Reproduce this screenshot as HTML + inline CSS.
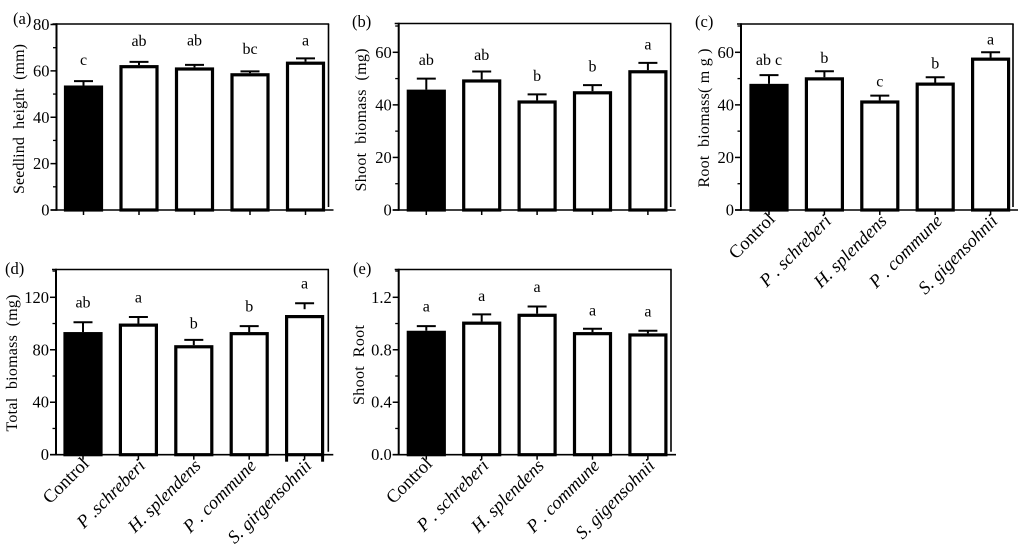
<!DOCTYPE html>
<html lang="en">
<head>
<meta charset="utf-8">
<title>Biomass bar charts</title>
<style>
html,body{margin:0;padding:0;background:#fff;}
svg{display:block;width:1024px;height:555px;}
text{font-family:"Liberation Serif",serif;fill:#000;white-space:pre;}
</style>
</head>
<body>
<svg id="chart" xmlns="http://www.w3.org/2000/svg" width="1024" height="555" viewBox="0 0 1024 555"></svg>
<script>
// ---- Data ----
const aValues = [53.7, 62.5, 61.5, 59, 64];
const aErrors = [1.9, 1.4, 1.1, 0.8, 1.4];
const aLetters = ['c', 'ab', 'ab', 'bc', 'a'];
const aLetterHeights = [62.5, 70.7, 71, 67.2, 71];
const aTicks = [0, 20, 40, 60, 80];
const aMinorTicks = [10, 30, 50, 70];

const bValues = [45.8, 49.7, 41.7, 45.2, 53.2];
const bErrors = [4.2, 3, 2.3, 2.3, 2.8];
const bLetters = ['ab', 'ab', 'b', 'b', 'a'];
const bLetterHeights = [55.2, 57, 49, 52.6, 61];
const bTicks = [0, 20, 40, 60];
const bMinorTicks = [10, 30, 50, 70];

const cValues = [48, 50.5, 41.7, 48.5, 58];
const cErrors = [3.3, 2.3, 1.8, 2, 2];
const cLetters = ['ab c', 'b', 'c', 'b', 'a'];
const cLetterHeights = [55.2, 56, 47, 53.8, 63];
const cTicks = [0, 20, 40, 60];
const cMinorTicks = [10, 30, 50, 70];
const cCategories = ['Control', 'P . schreberi', 'H. splendens', 'P . commune', 'S. gigensohnii'];

const dValues = [93.5, 100, 83.5, 93.5, 106.5];
const dErrors = [7.5, 5, 4, 4.5, 9];
const dLetters = ['ab', 'a', 'b', 'b', 'a'];
const dLetterHeights = [112.3, 115.9, 96.3, 109, 126.8];
const dTicks = [0, 40, 80, 120];
const dMinorTicks = [20, 60, 100, 140];
const dCategories = ['Control', 'P .schreberi', 'H. splendens', 'P . commune', 'S. girgensohnii'];

const eValues = [0.945, 1.015, 1.075, 0.935, 0.925];
const eErrors = [0.035, 0.055, 0.055, 0.025, 0.02];
const eLetters = ['a', 'a', 'a', 'a', 'a'];
const eLetterHeights = [1.093, 1.171, 1.242, 1.06, 1.055];
const eTicks = [0, 0.4, 0.8, 1.2];
const eTickLabels = ['0.0', '0.4', '0.8', '1.2'];
const eMinorTicks = [0.2, 0.6, 1.0, 1.4];
const eCategories = ['Control', 'P . schreberi', 'H. splendens', 'P . commune', 'S. gigensohnii'];

// ---- Drawing ----
const svg = document.getElementById('chart');
const NS = 'http://www.w3.org/2000/svg';

function make(parent, tag, attrs, txt) {
  const el = document.createElementNS(NS, tag);
  for (const k in attrs) el.setAttribute(k, attrs[k]);
  if (txt !== undefined) el.textContent = txt;
  parent.appendChild(el);
  return el;
}

function drawPanel(p) {
  const yScale = v => p.y0 - (v / p.maxValue) * (p.y0 - p.yTop);
  const xScale = i => p.x0 + i * p.step;

  const g = make(svg, 'g', {});
  
  

  const panelLabel = make(g, 'text', {x: p.labelX, y: p.labelY, 'font-size': 16.5}, '(' + p.id + ')');
  
  

  p.values.forEach((v, i) => {
    const cx = xScale(i);
    const top = yScale(v);
    const errTop = yScale(v + p.errors[i]);
    const stemEnd = (p.stubs && i === 4) ? errTop + 6 : top;

    const stem = make(g, 'line', {x1: cx, x2: cx, y1: stemEnd, y2: errTop, stroke: '#000', 'stroke-width': 2});
    
    

    const cap = make(g, 'line', {x1: cx - 9.5, x2: cx + 9.5, y1: errTop, y2: errTop, stroke: '#000', 'stroke-width': 2});
    
    

    const bar = make(g, 'rect', {
      x: cx - 18, y: top + 1.6, width: 36, height: p.y0 - top - 1.6,
      fill: i === 0 ? '#000' : '#fff', stroke: '#000', 'stroke-width': 3.2
    });
    
    

    const letter = make(g, 'text', {
      x: cx, y: yScale(p.letterHeights[i]), 'font-size': 16, 'text-anchor': 'middle'
    }, p.letters[i]);
    
    

    const xTick = make(g, 'line', {x1: cx, x2: cx, y1: p.y0, y2: p.y0 + 5, stroke: '#000', 'stroke-width': 1.5});
    
    

    if (p.categories) {
      const italic = i !== 0;
      const cat = make(g, 'text', {
        transform: 'translate(' + (cx + (italic ? 8 : 7)) + ',' + (p.y0 + (italic ? 12 : 10)) + ') rotate(-45)',
        'font-size': italic ? 18.3 : 18.5, 'text-anchor': 'end',
        'font-style': italic ? 'italic' : 'normal'
      }, p.categories[i]);
      
      
    }
  });

  if (p.stubs) {
    const cx = xScale(4);
    [-18, 18].forEach(dx => {
      const stub = make(g, 'line', {x1: cx + dx, x2: cx + dx, y1: p.y0, y2: p.y0 + 7, stroke: '#000', 'stroke-width': 3});
      
      
    });
  }

  const frameTop = make(g, 'line', {x1: p.axisX - 4, x2: p.right + 0.7, y1: p.frameTop, y2: p.frameTop, stroke: '#000', 'stroke-width': 1.6});
  
  

  const frameRight = make(g, 'line', {x1: p.right, x2: p.right, y1: p.frameTop, y2: p.y0 - 3, stroke: '#000', 'stroke-width': 1.6});
  
  

  const yAxis = make(g, 'line', {x1: p.axisX, x2: p.axisX, y1: p.frameTop - 0.7, y2: p.y0 + 0.8, stroke: '#000', 'stroke-width': 2});
  
  

  const xAxis = make(g, 'line', {x1: p.axisX - 6, x2: p.right + 5, y1: p.y0, y2: p.y0, stroke: '#000', 'stroke-width': 1.6});
  
  

  p.ticks.forEach((t, i) => {
    const y = yScale(t);
    const tick = make(g, 'line', {x1: p.axisX - 6, x2: p.axisX, y1: y, y2: y, stroke: '#000', 'stroke-width': 1.5});
    
    

    const label = make(g, 'text', {x: p.axisX - 7, y: y + 5.5, 'font-size': 16.5, 'text-anchor': 'end'},
      p.tickLabels ? p.tickLabels[i] : String(t));
    
    
  });

  p.minorTicks.forEach(t => {
    const y = yScale(t);
    const minor = make(g, 'line', {x1: p.axisX - 3.5, x2: p.axisX, y1: y, y2: y, stroke: '#000', 'stroke-width': 1.3});
    
    
  });

  const title = make(g, 'text', {
    transform: 'translate(' + p.titleX + ',' + p.titleY + ') rotate(-90)',
    'font-size': 16, 'text-anchor': 'middle',
    textLength: p.titleLength, lengthAdjust: 'spacing'
  }, p.title);
  
  
}

drawPanel({
  id: 'a', values: aValues, errors: aErrors, letters: aLetters, letterHeights: aLetterHeights,
  ticks: aTicks, minorTicks: aMinorTicks, maxValue: 80,
  x0: 83.5, step: 55.5, axisX: 56.5, right: 328.5, y0: 210, yTop: 24.5, frameTop: 24,
  labelX: 13, labelY: 24, title: 'Seedlind  height  (mm)', titleX: 24, titleY: 119, titleLength: 150
});
drawPanel({
  id: 'b', values: bValues, errors: bErrors, letters: bLetters, letterHeights: bLetterHeights,
  ticks: bTicks, minorTicks: bMinorTicks, maxValue: 60,
  x0: 426.3, step: 55.4, axisX: 398.7, right: 670.7, y0: 210, yTop: 52.3, frameTop: 23.5,
  labelX: 352, labelY: 27, title: 'Shoot  biomass  (mg)', titleX: 366, titleY: 120, titleLength: 143
});
drawPanel({
  id: 'c', values: cValues, errors: cErrors, letters: cLetters, letterHeights: cLetterHeights,
  ticks: cTicks, minorTicks: cMinorTicks, maxValue: 60, categories: cCategories,
  x0: 769, step: 55.4, axisX: 741, right: 1013, y0: 210, yTop: 52.3, frameTop: 24,
  labelX: 695, labelY: 27, title: 'Root  biomass( m g )', titleX: 709, titleY: 118, titleLength: 139
});
drawPanel({
  id: 'd', values: dValues, errors: dErrors, letters: dLetters, letterHeights: dLetterHeights,
  ticks: dTicks, tickLabels: null, minorTicks: dMinorTicks, maxValue: 120, categories: dCategories, stubs: true,
  x0: 83, step: 55.4, axisX: 56, right: 328.3, y0: 454.7, yTop: 297.3, frameTop: 269.5,
  labelX: 5, labelY: 274, title: 'Total  biomass  (mg)', titleX: 17, titleY: 363, titleLength: 137
});
drawPanel({
  id: 'e', values: eValues, errors: eErrors, letters: eLetters, letterHeights: eLetterHeights,
  ticks: eTicks, tickLabels: eTickLabels, minorTicks: eMinorTicks, maxValue: 1.2, categories: eCategories,
  x0: 426.3, step: 55.4, axisX: 398.7, right: 671, y0: 454.7, yTop: 297.3, frameTop: 269.5,
  labelX: 353, labelY: 274, title: 'Shoot  Root', titleX: 364, titleY: 365, titleLength: 80
});
</script>
</body>
</html>
